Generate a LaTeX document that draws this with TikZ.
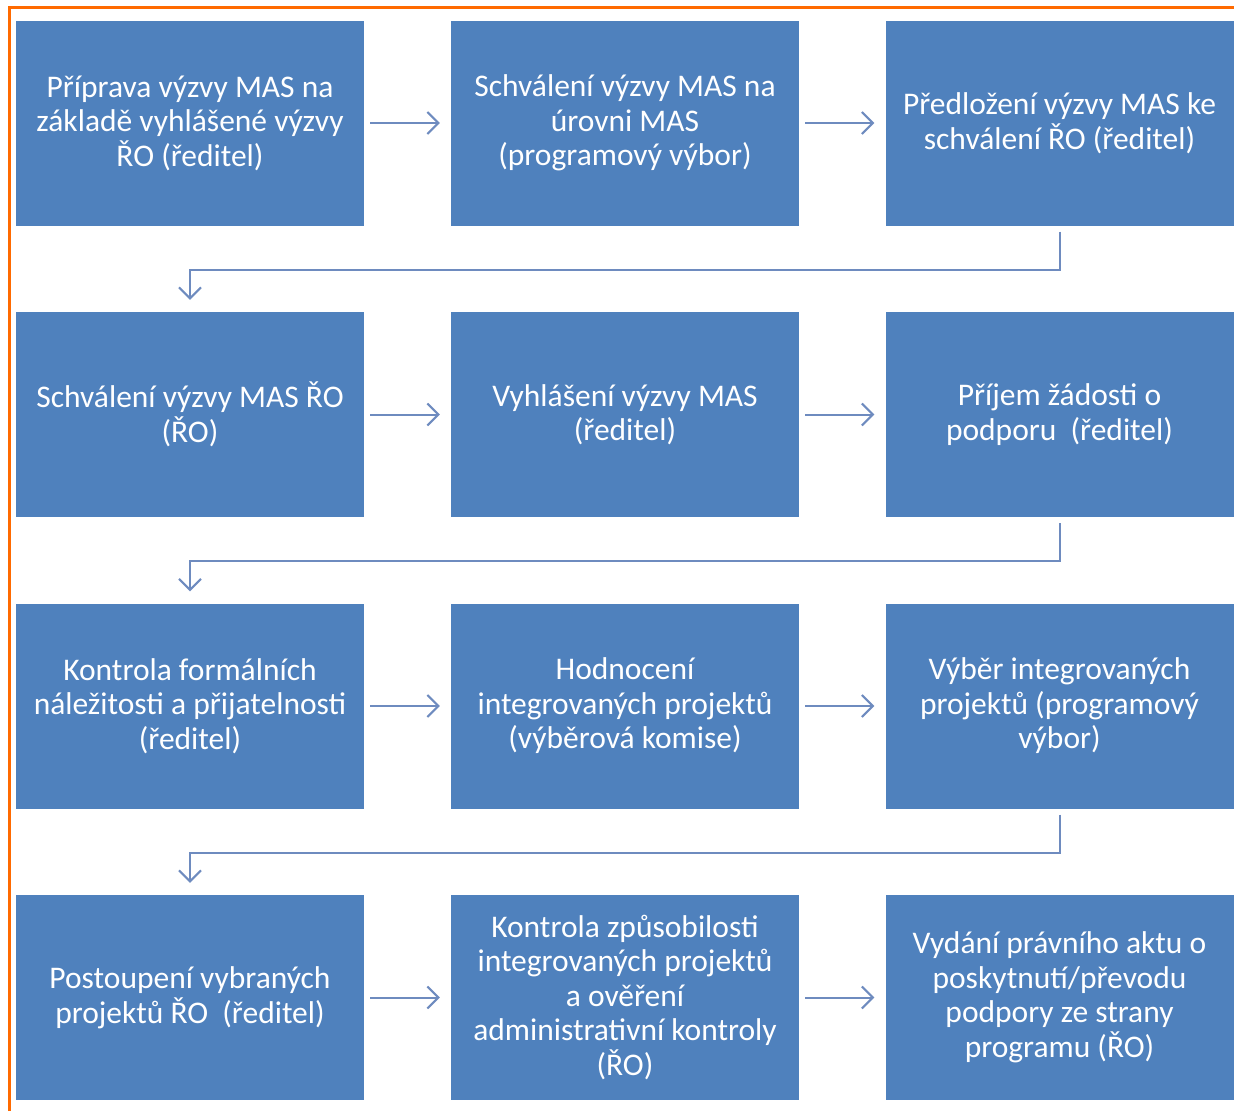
\documentclass[tikz,border=0pt]{standalone}
\usepackage{fontspec}
\setmainfont{Carlito}
\usetikzlibrary{arrows.meta}
\definecolor{boxblue}{HTML}{4F81BD}
\definecolor{arrowblue}{HTML}{6E8BBF}
\definecolor{frameorange}{HTML}{FF6A00}
\tikzset{
  stepbox/.style={draw=none, fill=boxblue, minimum width=348pt, minimum height=205pt,
    inner sep=0pt, text=white, align=center,
    font=\fontsize{31.5}{34.5}\selectfont},
  flow/.style={draw=arrowblue, line width=2pt,
    -{Straight Barb[length=11pt,width=22pt,line width=2pt]}}
}
\begin{document}
\begin{tikzpicture}[x=1pt,y=-1pt]
\useasboundingbox (0,0) rectangle (1234,1111);
% frame
\draw[frameorange, line width=3pt] (9.5,1111) -- (9.5,7.5) -- (1234,7.5);
% boxes
\node[stepbox] (a1) at (190,123) {Příprava výzvy MAS na\\základě vyhlášené výzvy\\ŘO (ředitel)};
\node[stepbox] (a2) at (625,123) {Schválení výzvy MAS na\\úrovni MAS\\(programový výbor)};
\node[stepbox] (a3) at (1059.5,123) {Předložení výzvy MAS ke\\schválení ŘO (ředitel)};
\node[stepbox] (b1) at (190,414.5) {Schválení výzvy MAS ŘO\\(ŘO)};
\node[stepbox] (b2) at (625,414.5) {Vyhlášení výzvy MAS\\(ředitel)};
\node[stepbox] (b3) at (1059.5,414.5) {Příjem žádosti o\\podporu\ \ (ředitel)};
\node[stepbox] (c1) at (190,706) {Kontrola formálních\\náležitosti a přijatelnosti\\(ředitel)};
\node[stepbox] (c2) at (625,706) {Hodnocení\\integrovaných projektů\\(výběrová komise)};
\node[stepbox] (c3) at (1059.5,706) {Výběr integrovaných\\projektů (programový\\výbor)};
\node[stepbox] (d1) at (190,997.5) {Postoupení vybraných\\projektů ŘO\ \ (ředitel)};
\node[stepbox] (d2) at (625,997.5) {Kontrola způsobilosti\\integrovaných projektů\\a ověření\\administrativní kontroly\\(ŘO)};
\node[stepbox] (d3) at (1059.5,997.5) {Vydání právního aktu o\\poskytnutí/převodu\\podpory ze strany\\programu (ŘO)};
% horizontal arrows
\foreach \r in {a,b,c,d}{
  \draw[flow] ([xshift=6pt]\r1.east) -- ([xshift=-11pt]\r2.west);
  \draw[flow] ([xshift=6pt]\r2.east) -- ([xshift=-11pt]\r3.west);
}
% bends
\draw[flow] ([yshift=-6pt]a3.south) -- ++(0,38) -| ([yshift=12pt]b1.north);
\draw[flow] ([yshift=-6pt]b3.south) -- ++(0,38) -| ([yshift=12pt]c1.north);
\draw[flow] ([yshift=-6pt]c3.south) -- ++(0,38) -| ([yshift=12pt]d1.north);
\end{tikzpicture}
\end{document}
